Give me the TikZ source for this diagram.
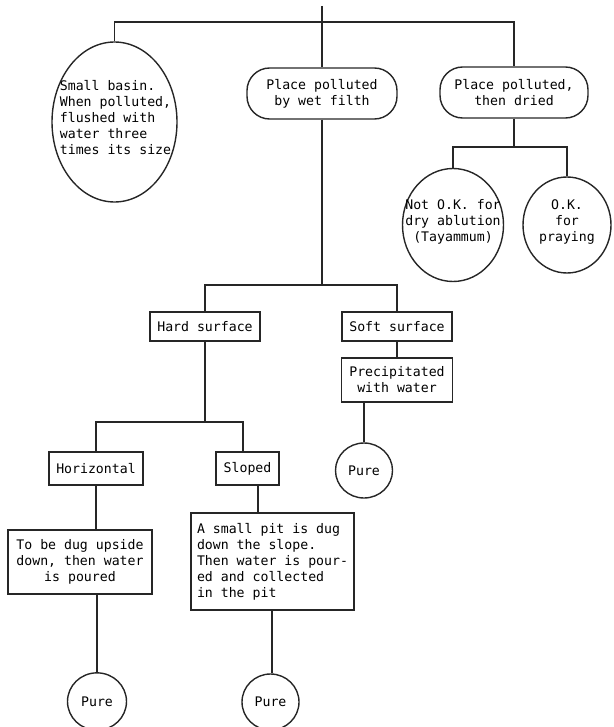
\documentclass[tikz,border=0pt]{standalone}
\usepackage{fontspec}
\newfontfamily\mono{DejaVu Sans Mono}
\usetikzlibrary{shapes.geometric}
\begin{document}
\begin{tikzpicture}[x=0.75pt,y=-0.75pt,
  link/.style={draw=black!85, line width=1.05pt},
  shp/.style={draw=black!85, line width=1.05pt, inner sep=0pt},
  rbox/.style={shp, rectangle, rounded corners=17pt},
  sbox/.style={shp, rectangle},
  oval/.style={shp, ellipse},
  txt/.style={font=\mono\fontsize{9.9}{12}\selectfont, inner sep=0pt, align=center},
]
\useasboundingbox (0,0) rectangle (613,727);

% level 1
\node[oval, minimum width=93.75pt, minimum height=120pt] (E) at (114.5,122) {};
\node[txt, align=left] (Et) at (115.5,118) {Small basin.\\When polluted,\\flushed with\\water three\\times its size};
\node[rbox, txt, draw=black!85, line width=1.05pt, minimum width=112.5pt, minimum height=38.25pt] (B2) at (322,93.5) {Place polluted\\by wet filth};
\node[rbox, txt, draw=black!85, line width=1.05pt, minimum width=111pt, minimum height=38.25pt] (B3) at (514,92.5) {Place polluted,\\then dried};

% dried branch
\node[oval, minimum width=75.75pt, minimum height=84.75pt] (C1) at (453,225) {};
\node[txt] (C1t) at (453,222) {Not O.K. for\\dry ablution\\(Tayammum)};
\node[oval, minimum width=66pt, minimum height=72pt] (C2) at (567,225) {};
\node[txt] (C2t) at (567,222) {O.K.\\for\\praying};

% wet filth branch
\node[sbox, txt, draw=black!85, line width=1.05pt, minimum width=82.5pt, minimum height=21.75pt] (HS) at (205,326.5) {Hard surface};
\node[sbox, txt, draw=black!85, line width=1.05pt, minimum width=82.5pt, minimum height=21.75pt] (SS) at (397,326.5) {Soft surface};
\node[sbox, txt, draw=black!85, line width=1.05pt, minimum width=83.25pt, minimum height=33pt] (PW) at (397,380) {Precipitated\\with water};
\node[oval, txt, draw=black!85, line width=1.05pt, minimum width=42.75pt, minimum height=41.25pt] (P1) at (364,470.5) {Pure};

\node[sbox, txt, draw=black!85, line width=1.05pt, minimum width=70.5pt, minimum height=24.75pt] (HZ) at (96,468.5) {Horizontal};
\node[sbox, txt, draw=black!85, line width=1.05pt, minimum width=47.25pt, minimum height=24.75pt] (SL) at (247.5,468.5) {Sloped};
\node[sbox, txt, draw=black!85, line width=1.05pt, minimum width=108pt, minimum height=48pt] (TD) at (80,562) {To be dug upside\\down, then water\\is poured};
\node[sbox, txt, draw=black!85, line width=1.05pt, align=left, minimum width=122.25pt, minimum height=72.75pt] (SP) at (272.5,561.5) {A small pit is dug\\down the slope.\\Then water is pour-\\ed and collected\\in the pit};
\node[oval, txt, draw=black!85, line width=1.05pt, minimum width=44.25pt, minimum height=43pt] (P2) at (97,701.5) {Pure};
\node[oval, txt, draw=black!85, line width=1.05pt, minimum width=42.75pt, minimum height=42pt] (P3) at (270.5,702) {Pure};

% junction coordinates
\coordinate (top) at (322,6);
\coordinate (j1) at (322,22);
\coordinate (j2) at (322,285);
\coordinate (j3) at (514,147);
\coordinate (j4) at (205,422);

% connectors
\draw[link] (top) -- (B2.north);
\draw[link] (E.north) |- (j1) -| (B3.north);
\draw[link] (B3.south) -- (j3);
\draw[link] (C1.north) |- (j3) -| (C2.north);
\draw[link] (B2.south) -- (j2);
\draw[link] (HS.north) |- (j2) -| (SS.north);
\draw[link] (SS.south) -- (PW.north);
\draw[link] (P1.north |- PW.south) -- (P1.north);
\draw[link] (HS.south) -- (j4);
\draw[link] (HZ.north) |- (j4) -| ([xshift=-3.4pt]SL.north);
\draw[link] (HZ.south) -- (HZ.south |- TD.north);
\draw[link] ([xshift=7.9pt]SL.south) -- ([xshift=7.9pt]SL.south |- SP.north);
\draw[link] (P2.north |- TD.south) -- (P2.north);
\draw[link] ([xshift=1pt]P3.north |- SP.south) -- ([xshift=1pt]P3.north);
\end{tikzpicture}
\end{document}
